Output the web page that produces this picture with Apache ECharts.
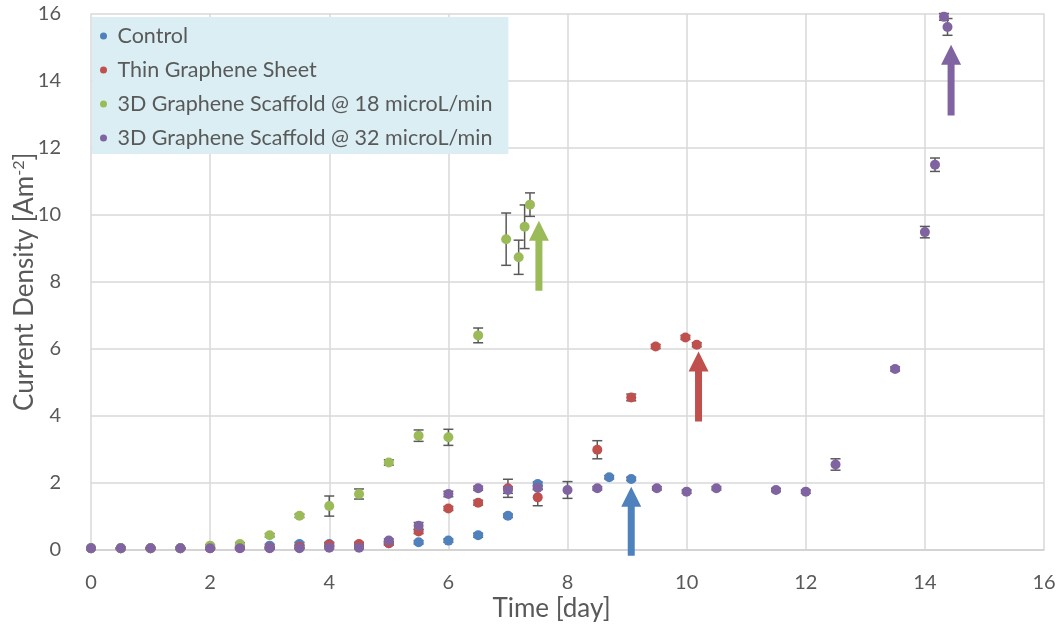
<!DOCTYPE html>
<html>
<head>
<meta charset="utf-8">
<script src="https://cdn.jsdelivr.net/npm/echarts@6/dist/echarts.min.js"></script>
<style>html,body{margin:0;padding:0;background:#fff;}#c{width:1062px;height:629px;}</style>
</head>
<body>
<div id="c"></div>
<script>
// ---- data ----
const seriesNames = ['Control', 'Thin Graphene Sheet', '3D Graphene Scaffold @ 18 microL/min', '3D Graphene Scaffold @ 32 microL/min'];
const xTicks = [0, 2, 4, 6, 8, 10, 12, 14, 16];
const yTicks = [0, 2, 4, 6, 8, 10, 12, 14, 16];

const controlX   = [0, 0.5, 1, 1.5, 2, 2.5, 3, 3.5, 4, 4.5, 5, 5.5, 6, 6.5, 7, 7.5, 8.7, 9.07];
const controlY   = [0.05, 0.05, 0.05, 0.05, 0.06, 0.08, 0.13, 0.18, 0.18, 0.12, 0.2, 0.23, 0.28, 0.44, 1.02, 1.97, 2.17, 2.12];
const controlErr = [0.02, 0.02, 0.02, 0.02, 0.03, 0.03, 0.04, 0.05, 0.05, 0.04, 0.05, 0.05, 0.05, 0.06, 0.05, 0.06, 0.05, 0.05];

const thinX   = [0, 0.5, 1, 1.5, 2, 2.5, 3, 3.5, 4, 4.5, 5, 5.5, 6, 6.5, 7, 7.5, 8.5, 9.07, 9.48, 9.98, 10.17];
const thinY   = [0.05, 0.05, 0.05, 0.05, 0.05, 0.06, 0.07, 0.1, 0.16, 0.18, 0.2, 0.55, 1.24, 1.41, 1.84, 1.57, 2.99, 4.55, 6.07, 6.34, 6.12];
const thinErr = [0.02, 0.02, 0.02, 0.02, 0.02, 0.03, 0.03, 0.04, 0.05, 0.05, 0.05, 0.06, 0.06, 0.07, 0.27, 0.25, 0.27, 0.1, 0.06, 0.06, 0.06];

const scaf18X   = [0, 0.5, 1, 1.5, 2, 2.5, 3, 3.5, 4, 4.5, 5, 5.5, 6, 6.5, 6.97, 7.18, 7.28, 7.37];
const scaf18Y   = [0.05, 0.05, 0.05, 0.05, 0.13, 0.18, 0.44, 1.02, 1.31, 1.67, 2.61, 3.41, 3.36, 6.40, 9.27, 8.73, 9.64, 10.30];
const scaf18Err = [0.02, 0.02, 0.02, 0.02, 0.03, 0.04, 0.05, 0.05, 0.3, 0.15, 0.08, 0.17, 0.24, 0.22, 0.78, 0.51, 0.65, 0.35];

const scaf32X   = [0, 0.5, 1, 1.5, 2, 2.5, 3, 3.5, 4, 4.5, 5, 5.5, 6, 6.5, 7, 7.5, 8, 8.5, 9.5, 10, 10.5, 11.5, 12, 12.5, 13.5, 14, 14.17, 14.32, 14.38];
const scaf32Y   = [0.05, 0.05, 0.05, 0.05, 0.05, 0.05, 0.05, 0.05, 0.07, 0.07, 0.28, 0.72, 1.67, 1.84, 1.79, 1.86, 1.79, 1.84, 1.84, 1.74, 1.84, 1.79, 1.74, 2.55, 5.40, 9.48, 11.49, 15.90, 15.60];
const scaf32Err = [0.02, 0.02, 0.02, 0.02, 0.02, 0.02, 0.02, 0.02, 0.03, 0.03, 0.05, 0.1, 0.08, 0.06, 0.1, 0.06, 0.25, 0.05, 0.05, 0.05, 0.05, 0.05, 0.05, 0.17, 0.06, 0.17, 0.2, 0.1, 0.25];

// arrows: x position, start value, tip value
const arrowX    = [9.07, 10.2, 7.52, 14.44];
const arrowFrom = [-0.17, 3.83, 7.73, 12.96];
const arrowTo   = [1.89, 5.92, 9.82, 15.07];

// ---- chart ----
const colors = ['#4F81BD', '#C0504D', '#9BBB59', '#8064A2'];
const FONT = 'Lato';
const TXT = '#595959';

function zip3(a, b, c) { return a.map((v, i) => [v, b[i], c[i]]); }
const allX = [controlX, thinX, scaf18X, scaf32X];
const allY = [controlY, thinY, scaf18Y, scaf32Y];
const allE = [controlErr, thinErr, scaf18Err, scaf32Err];

function renderErr(params, api) {
  const x = api.value(0), y = api.value(1), e = api.value(2);
  const t = api.coord([x, y + e]), b = api.coord([x, y - e]);
  const c = 5;
  const st = { stroke: '#595959', lineWidth: 1.5 };
  return { type: 'group', children: [
    { type: 'line', shape: { x1: t[0], y1: t[1], x2: b[0], y2: b[1] }, style: st },
    { type: 'line', shape: { x1: t[0] - c, y1: t[1], x2: t[0] + c, y2: t[1] }, style: st },
    { type: 'line', shape: { x1: b[0] - c, y1: b[1], x2: b[0] + c, y2: b[1] }, style: st }
  ]};
}

function renderArrow(params, api) {
  const x = api.value(0), y0 = api.value(1), y1 = api.value(2);
  const p0 = api.coord([x, y0]), p1 = api.coord([x, y1]);
  const sw = 3.5, hw = 10, hl = 20;
  const cx = p0[0];
  const baseY = p1[1] + hl;
  return {
    type: 'polygon',
    shape: { points: [
      [cx - sw, p0[1]], [cx - sw, baseY], [cx - hw, baseY], [cx, p1[1]],
      [cx + hw, baseY], [cx + sw, baseY], [cx + sw, p0[1]]
    ]},
    style: { fill: colors[params.dataIndex] }
  };
}

const series = [];
for (let i = 0; i < 4; i++) {
  series.push({
    name: 'err' + i, type: 'custom', renderItem: renderErr, z: 1,
    data: zip3(allX[i], allY[i], allE[i]), encode: { x: 0, y: 1 }, silent: true
  });
}
for (let i = 0; i < 4; i++) {
  series.push({
    name: seriesNames[i], type: 'scatter', symbol: 'circle', symbolSize: 10, z: 2,
    itemStyle: { color: colors[i], opacity: 1 },
    data: allX[i].map((v, k) => [v, allY[i][k]])
  });
}
series.push({
  name: 'arrows', type: 'custom', renderItem: renderArrow, z: 3, clip: false,
  data: zip3(arrowX, arrowFrom, arrowTo), encode: { x: 0, y: [1, 2] }, silent: true
});

const chart = echarts.init(document.getElementById('c'), null, { renderer: 'canvas' });
chart.setOption({
  animation: false,
  color: colors,
  textStyle: { fontFamily: FONT },
  grid: { left: 91, right: 18, top: 13.5, bottom: 79, containLabel: false, outerBoundsMode: 'none' },
  legend: {
    data: seriesNames,
    orient: 'vertical', left: 92, top: 17,
    backgroundColor: '#DAEEF3',
    padding: [7, 16, 4, 8],
    itemWidth: 18, itemHeight: 7, itemGap: 10,
    icon: 'circle',
    textStyle: { fontFamily: FONT, fontSize: 21.5, color: TXT, lineHeight: 24 }
  },
  xAxis: {
    type: 'value', min: xTicks[0], max: xTicks[xTicks.length - 1], interval: 2,
    name: 'Time [day]', nameLocation: 'middle', nameGap: 46, nameMoveOverlap: false,
    nameTextStyle: { fontFamily: FONT, fontSize: 26, color: TXT, padding: [0, 32, 0, 0] },
    axisLine: { show: true, lineStyle: { color: '#D0D0D0', width: 1.5 } },
    axisTick: { show: false },
    axisLabel: { margin: 23, fontFamily: FONT, fontSize: 20, color: TXT },
    splitLine: { show: true, lineStyle: { color: '#D9D9D9', width: 1.5 } }
  },
  yAxis: {
    type: 'value', min: yTicks[0], max: yTicks[yTicks.length - 1], interval: 2,
    name: 'Current Density [Am{sup|-2}]', nameLocation: 'middle', nameGap: 53, nameRotate: 90,
    nameMoveOverlap: false,
    nameTextStyle: { fontFamily: FONT, fontSize: 26, color: TXT,
      rich: { sup: { fontFamily: FONT, fontSize: 16, color: TXT, verticalAlign: 'top', padding: [0, 0, 11, 0] } } },
    axisLine: { show: false },
    axisTick: { show: false },
    axisLabel: { margin: 30, fontFamily: FONT, fontSize: 20, color: TXT },
    splitLine: { show: true, lineStyle: { color: '#D9D9D9', width: 1.5 } }
  },
  series: series
});
</script>
</body>
</html>
